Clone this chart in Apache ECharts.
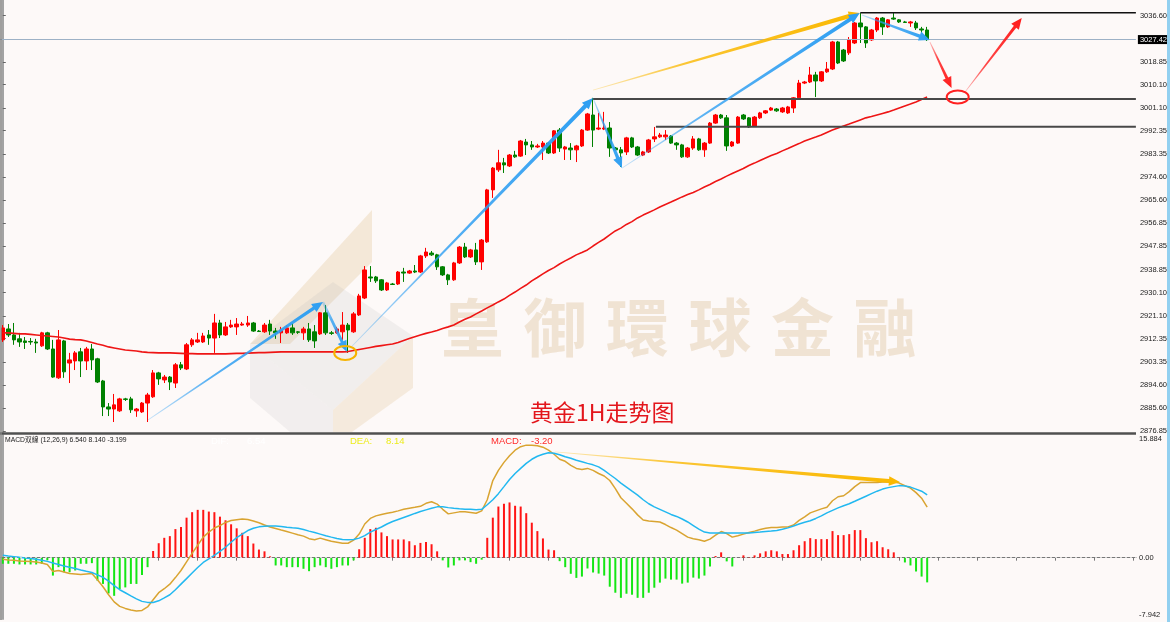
<!DOCTYPE html>
<html>
<head>
<meta charset="utf-8">
<script src="https://cdn.jsdelivr.net/npm/echarts@6.0.0/dist/echarts.min.js"></script>
<style>
  html, body { margin: 0; padding: 0; background: #fdf9f8; }
  #chart { width: 1170px; height: 622px; }
</style>
</head>
<body>
<div id="chart"></div>
<script>
// ---- data ----
const SLOT_COUNT = 204;               // hourly slots across the panel (last 37 still empty)
const slots = Array.from({ length: SLOT_COUNT }, (_, i) => String(i));

// [open, close, low, high]
const candles = [
  [2911.9,2916.5,2911.1,2917.6],[2916.1,2913.8,2913.0,2918.0],[2913.8,2911.9,2910.0,2918.4],[2912.3,2911.1,2909.2,2914.6],[2911.5,2910.9,2908.4,2913.0],
  [2911.3,2911.1,2910.0,2912.6],[2911.1,2910.7,2906.9,2912.3],[2909.6,2914.6,2909.2,2915.0],[2914.6,2908.4,2908.0,2915.0],[2908.4,2897.6,2897.3,2911.9],
  [2897.3,2911.9,2896.9,2915.7],[2911.5,2899.6,2897.3,2911.9],[2903.0,2904.2,2895.3,2906.9],[2903.8,2906.9,2900.3,2907.6],[2907.3,2903.8,2897.6,2908.8],
  [2903.8,2908.4,2900.3,2909.2],[2908.4,2904.2,2900.3,2910.3],[2904.6,2895.7,2895.3,2905.0],[2896.1,2886.1,2882.6,2896.5],[2886.1,2885.3,2882.6,2887.6],
  [2885.3,2886.9,2880.3,2891.1],[2884.6,2889.2,2884.2,2889.6],[2889.2,2889.0,2888.4,2889.6],[2889.2,2885.0,2883.8,2890.0],[2884.6,2885.3,2882.3,2885.7],
  [2884.2,2887.6,2883.8,2888.0],[2887.6,2890.7,2880.3,2891.5],[2890.0,2899.2,2889.6,2900.3],[2899.2,2896.9,2894.6,2899.6],[2896.5,2897.6,2895.3,2898.4],
  [2897.6,2895.7,2892.6,2898.0],[2895.3,2902.3,2893.4,2903.0],[2902.3,2901.1,2900.3,2903.4],[2900.7,2910.0,2900.3,2910.7],[2910.0,2911.9,2909.2,2912.6],
  [2911.1,2911.9,2910.7,2914.6],[2911.1,2913.4,2910.7,2914.6],[2913.8,2912.6,2910.0,2915.7],[2912.6,2918.4,2906.9,2921.9],[2918.4,2913.8,2912.6,2919.6],
  [2913.8,2916.9,2913.4,2918.8],[2916.9,2917.6,2916.5,2919.6],[2916.9,2918.0,2913.8,2920.3],[2917.6,2918.0,2917.3,2918.8],[2917.6,2918.4,2916.9,2921.1],
  [2918.4,2915.3,2915.0,2918.8],[2915.3,2915.1,2915.0,2915.7],[2915.0,2917.6,2914.6,2918.4],[2918.0,2915.3,2913.8,2919.6],[2915.3,2914.6,2912.3,2916.5],
  [2914.6,2915.7,2910.7,2916.9],[2914.6,2916.5,2914.2,2917.6],[2916.5,2914.6,2913.8,2918.4],[2915.0,2914.8,2914.2,2915.3],[2914.6,2916.1,2911.9,2916.9],
  [2916.1,2911.9,2911.1,2918.4],[2915.0,2911.5,2908.8,2917.6],[2914.2,2922.3,2913.8,2922.6],[2922.3,2914.6,2913.8,2925.3],[2914.6,2914.4,2913.8,2915.3],
  [2914.6,2916.1,2914.2,2916.9],[2915.0,2917.6,2911.9,2922.6],[2917.6,2915.7,2906.9,2918.4],[2915.0,2921.9,2914.6,2922.6],[2921.5,2928.8,2921.1,2929.6],
  [2928.0,2938.8,2927.6,2940.3],[2936.1,2935.7,2934.2,2940.3],[2936.1,2934.6,2933.8,2936.5],[2935.0,2931.1,2930.7,2935.3],[2931.1,2933.8,2930.7,2934.2],
  [2933.4,2933.2,2933.0,2933.8],[2933.4,2938.0,2933.0,2938.4],[2938.0,2937.6,2934.2,2939.6],[2937.6,2938.4,2937.3,2938.8],[2938.4,2938.0,2937.6,2940.7],
  [2938.0,2944.2,2937.6,2944.6],[2944.2,2945.7,2943.4,2947.3],[2945.3,2944.6,2944.2,2946.1],[2944.6,2940.0,2938.8,2945.0],[2940.0,2936.9,2936.5,2940.3],
  [2936.9,2935.0,2933.0,2937.3],[2935.0,2941.5,2934.6,2941.9],[2941.5,2947.6,2941.1,2948.0],[2947.6,2943.8,2943.4,2949.2],[2943.8,2946.5,2943.4,2946.9],
  [2946.5,2941.9,2940.7,2949.2],[2941.9,2950.3,2938.8,2950.7],[2949.6,2969.6,2949.2,2970.0],[2969.6,2978.0,2966.5,2978.4],[2977.3,2980.0,2976.5,2985.0],
  [2980.0,2979.2,2976.1,2981.9],[2978.8,2983.0,2978.4,2983.4],[2983.0,2982.3,2981.9,2984.6],[2982.6,2988.4,2982.3,2988.8],[2988.0,2986.9,2983.0,2989.2],
  [2986.9,2986.1,2985.0,2988.4],[2986.1,2986.5,2985.7,2987.3],[2986.1,2987.6,2981.1,2988.4],[2987.6,2983.8,2983.4,2988.0],[2983.8,2992.3,2983.4,2992.6],
  [2992.6,2985.7,2984.2,2993.4],[2985.3,2986.1,2981.1,2986.5],[2985.7,2985.0,2981.1,2987.6],[2985.0,2986.5,2980.3,2986.9],[2986.5,2992.6,2986.1,2993.0],
  [2992.6,2998.8,2992.3,2999.2],[2998.4,2992.6,2986.1,3005.0],[2993.0,2993.4,2992.6,2999.2],[2993.0,2993.4,2992.6,2999.6],[2993.4,2985.7,2982.3,2995.7],
  [2985.7,2985.0,2984.6,2986.1],[2985.0,2983.8,2978.4,2986.1],[2984.2,2989.6,2983.0,2990.0],[2989.6,2986.1,2985.7,2990.0],[2986.1,2983.0,2982.6,2986.5],
  [2983.0,2984.2,2982.6,2984.6],[2984.2,2988.8,2983.8,2989.2],[2989.2,2990.0,2988.0,2993.8],[2990.0,2990.7,2989.6,2991.5],[2990.0,2990.7,2988.8,2992.6],
  [2990.3,2987.6,2987.3,2990.7],[2987.6,2986.9,2985.0,2988.0],[2986.9,2982.3,2981.9,2987.3],[2982.3,2985.7,2981.9,2986.1],[2985.7,2989.2,2985.0,2990.3],
  [2989.2,2985.0,2984.6,2989.6],[2985.0,2987.6,2982.3,2988.0],[2987.6,2995.3,2987.3,2995.7],[2995.3,2998.4,2995.0,2998.8],[2998.4,2997.3,2996.9,2998.8],
  [2997.3,2986.5,2984.6,2998.4],[2986.5,2988.0,2986.1,2988.4],[2987.6,2997.6,2987.3,2998.0],[2998.4,2996.9,2996.5,2998.8],[2997.3,2993.8,2993.4,2997.6],
  [2994.2,2997.6,2993.8,2998.0],[2997.3,2999.2,2996.9,2999.6],[2999.2,3000.0,2998.8,3000.3],[3000.3,3001.1,3000.0,3001.5],[3000.7,3000.0,2999.6,3001.1],
  [2999.6,3001.1,2999.2,3001.5],[2999.2,3001.5,2998.8,3001.9],[3001.1,3005.0,2999.2,3005.3],[3005.0,3010.7,3004.2,3011.9],[3010.7,3011.1,3010.3,3011.5],
  [3011.1,3013.8,3010.7,3016.9],[3013.8,3011.5,3005.3,3015.0],[3011.5,3015.0,3011.1,3015.3],[3015.0,3016.1,3014.6,3018.8],[3016.1,3026.5,3015.7,3026.9],
  [3026.5,3018.4,3018.0,3026.9],[3023.4,3019.2,3018.8,3023.8],[3022.3,3027.3,3021.5,3028.4],[3026.1,3033.8,3025.7,3034.2],[3033.8,3032.3,3026.1,3037.6],
  [3032.3,3026.1,3024.2,3032.6],[3027.3,3031.1,3026.9,3031.5],[3031.1,3035.7,3030.3,3036.1],[3035.7,3032.3,3029.2,3036.1],[3032.3,3035.0,3031.9,3035.3],
  [3035.7,3035.3,3035.0,3037.6],[3035.0,3034.2,3033.8,3035.3],[3034.2,3034.0,3033.8,3034.6],[3033.8,3034.2,3032.3,3034.6],[3033.8,3031.9,3031.1,3034.6],
  [3031.5,3031.1,3030.0,3032.3],[3031.1,3027.4,3026.9,3032.3]
];

// red moving average on the price panel
const movingAvg = [
  2914.6,2914.6,2914.4,2914.2,2914.2, 2914.0,2913.8,2913.6,2913.4,2913.2,
  2913.0,2912.6,2912.2,2912.0,2911.9, 2911.5,2910.9,2910.3,2909.8,2909.2,
  2908.8,2908.4,2908.0,2907.8,2907.6, 2907.3,2907.1,2907.0,2906.9,2906.9,
  2906.9,2906.8,2906.7,2906.6,2906.6, 2906.5,2906.5,2906.5,2906.5,2906.5,
  2906.5,2906.6,2906.7,2906.7,2906.8, 2906.9,2907.0,2907.0,2907.1,2907.2,
  2907.3,2907.3,2907.3,2907.3,2907.3, 2907.3,2907.3,2907.3,2907.3,2907.3,
  2907.3,2907.3,2907.4,2907.8,2908.2, 2908.6,2909.0,2909.4,2909.7,2910.0,
  2910.3,2910.9,2911.7,2912.4,2913.1, 2913.8,2914.4,2914.9,2915.5,2916.3,
  2916.9,2917.6,2918.8,2919.8,2920.7, 2921.9,2923.0,2924.2,2925.3,2926.5,
  2927.6,2929.0,2930.3,2931.7,2933.0, 2934.6,2935.9,2937.3,2938.6,2939.7,
  2941.1,2942.3,2943.4,2944.6,2945.5, 2946.5,2948.0,2949.4,2950.7,2952.3,
  2953.8,2954.9,2956.3,2957.4,2958.8, 2959.9,2960.9,2961.9,2963.0,2964.0,
  2964.9,2965.9,2966.9,2967.8,2968.6, 2969.6,2970.7,2971.7,2972.8,2973.8,
  2974.9,2975.9,2976.9,2977.8,2979.0, 2979.9,2980.9,2981.9,2982.8,2983.6,
  2984.6,2985.5,2986.5,2987.4,2988.4, 2989.2,2989.9,2990.7,2991.7,2992.6,
  2993.4,2994.2,2994.9,2995.7,2996.5, 2997.3,2997.8,2998.4,2999.0,2999.6,
  3000.3,3001.1,3001.9,3002.6,3003.4,3004.4,3005.3
];

const macdHist = [
  -0.79,-0.79,-0.79,-0.88,-0.88, -0.88,-0.88,-0.79,-0.35,-2.32, -1.23,-1.89,-1.89,-1.66,-0.79,
  -0.79,-0.71,-2.97,-3.40,-4.63, -4.94,-4.06,-3.85,-3.40,-3.40, -2.23,-1.23,0.86,1.87,2.57,
  2.79,3.70,3.97,5.18,5.89, 6.19,6.19,5.97,5.89,5.31, 4.84,4.32,3.80,3.22,2.79,
  1.83,1.05,0.82,0.17,-1.01, -1.01,-1.23,-1.23,-1.23,-1.44, -1.75,-1.23,-1.01,-1.23,-1.44,
  -1.23,-1.01,-1.01,-0.35,1.09, 2.57,3.70,3.87,3.27,2.79, 2.36,2.36,2.36,2.13,1.61,
  1.91,2.04,1.74,0.82,-0.35, -1.27,-1.01,-0.35,-0.35,-0.58, -0.79,-0.26,2.57,5.18,6.62,
  6.98,7.15,6.72,6.62,5.76, 4.53,3.44,2.49,1.05,0.96, -0.45,-1.23,-2.09,-2.62,-2.45,
  -1.40,-1.92,-2.06,-2.32,-3.76, -4.54,-5.20,-4.67,-4.80,-5.20, -5.20,-4.54,-3.89,-3.23,-2.71,
  -2.84,-2.84,-3.36,-3.23,-2.58, -2.71,-2.32,-1.14,0.21,0.69, -0.48,-1.14,0,0.30,0.04,
  0.30,0.56,0.82,0.96,0.82, 0.47,0.47,0.96,1.61,2.13, 2.53,2.40,2.40,2.40,3.44,
  2.92,2.92,3.05,3.57,3.57, 2.53,2.00,2.13,1.35,1.09, 0.69,0.05,-0.62,-1.01,-1.79,
  -2.45,-3.20
];

const macdDif = [
  -0.22,-0.29,-0.35,-0.42,-0.48, -0.51,-0.56,-0.68,-0.88,-1.79, -1.66,-1.86,-2.06,-2.12,-2.19,
  -2.12,-2.06,-2.85,-3.76,-4.80, -5.72,-6.31,-6.57,-6.77,-6.90, -6.83,-6.38,-5.46,-4.54,-4.02,
  -3.43,-2.58,-1.66,-0.55,0.56, 1.61,2.66,3.31,3.84,4.16, 4.56,4.82,4.92,5.01,4.95,
  4.75,4.52,4.23,3.97,3.77, 3.57,3.38,3.18,2.98,2.79, 2.46,2.33,2.53,2.33,2.13,
  2.00,1.87,1.87,2.26,3.05, 4.36,5.08,5.41,5.60,5.76, 5.89,6.06,6.26,6.41,6.52,
  6.65,7.04,7.24,6.94,6.26, 5.67,5.80,5.93,5.93,5.86, 5.76,6.06,7.50,9.99,11.30,
  12.34,13.20,13.92,14.37,14.57, 14.57,14.50,14.31,13.92,13.39, 12.74,12.48,11.95,11.56,11.43,
  11.56,11.30,10.90,10.58,9.99, 8.94,7.76,7.04,6.32,5.54, 4.88,4.75,4.69,4.62,4.29,
  3.90,3.57,3.12,2.66,2.46, 2.33,2.13,2.40,2.92,3.38, 3.12,2.66,2.85,3.05,3.25,
  3.44,3.64,3.80,3.90,3.90, 3.97,3.97,4.23,4.82,5.28, 5.80,6.06,6.32,6.52,7.37,
  7.89,8.02,8.55,9.20,9.73, 9.73,9.73,9.73,9.79,9.79, 9.79,9.66,9.33,9.01,8.42,
  7.70,6.54
];

const macdDea = [
  0.30,0.21,0.13,0.04,-0.03, -0.12,-0.20,-0.33,-0.48,-0.68, -0.88,-1.07,-1.24,-1.40,-1.60,
  -1.77,-1.92,-2.23,-2.54,-3.04, -3.63,-4.15,-4.54,-4.94,-5.33, -5.66,-5.79,-5.81,-5.59,-5.20,
  -4.80,-4.15,-3.43,-2.71,-1.99, -1.27,-0.62,-0.16,0.30,0.82, 1.35,2.00,2.59,3.05,3.51,
  3.80,3.99,4.06,4.10,4.10, 4.03,3.93,3.86,3.80,3.64, 3.44,3.25,3.05,2.85,2.66,
  2.49,2.36,2.33,2.36,2.53, 2.85,3.31,3.64,3.97,4.36, 4.69,4.95,5.21,5.47,5.73,
  5.97,6.19,6.39,6.58,6.58, 6.48,6.39,6.32,6.28,6.26, 6.22,6.26,6.85,7.50,8.29,
  9.20,10.12,10.90,11.56,12.21, 12.74,13.13,13.39,13.59,13.52, 13.33,13.06,12.87,12.61,12.41,
  12.21,12.02,11.76,11.30,10.77, 10.25,9.66,9.14,8.61,8.09, 7.50,6.98,6.58,6.26,5.93,
  5.60,5.34,5.01,4.62,4.16, 3.70,3.31,3.18,3.18,3.18, 3.18,3.18,3.18,3.18,3.18,
  3.25,3.31,3.38,3.44,3.53, 3.67,3.86,4.10,4.36,4.58, 4.78,5.08,5.41,5.80,6.13,
  6.45,6.72,6.98,7.30,7.63, 7.96,8.29,8.61,8.88,9.07, 9.20,9.33,9.29,9.14,8.88,
  8.61,8.14
];

const priceTicks = [3036.60, 3018.85, 3010.10, 3001.10, 2992.35, 2983.35, 2974.60, 2965.60, 2956.85,
  2947.85, 2938.85, 2930.10, 2921.10, 2912.35, 2903.35, 2894.60, 2885.60, 2876.85];
const macdTicks = [-7.942, 0, 15.884];
const lastPrice = 3027.42;

// hand-drawn annotations, in (slot, price) terms
const levelLines = [[154, 3037.7], [106, 3004.6], [117.3, 2993.9]];        // start slot, price
const priceArrows = [
  [26.1, 2881.1, 57.5, 2926.5], [57.5, 2926.5, 61.8, 2907.3], [62.4, 2908.8, 106.0, 3004.9],
  [106.0, 3008.0, 153.9, 3037.6], [106.0, 3004.9, 111.2, 2978.0], [111.2, 2978.0, 153.9, 3037.6],
  [154.3, 3036.9, 166.5, 3027.3], [166.5, 3026.5, 170.4, 3008.8], [172.8, 3007.2, 183.0, 3035.7]
];
const priceRings = [[61.5, 2906.9], [171.5, 3005.3]];
const macdArrows = [[99.2, 13.7, 161.1, 9.8]];

// ---- styles ----
const BLUE = [47, 159, 242], GOLD = [250, 184, 0], RED = [255, 28, 28];
const priceArrowStyle = [
  { rgb: BLUE, w0: 0.8, w1: 3.5 }, { rgb: BLUE, w0: 2.5, w1: 3 }, { rgb: BLUE, w0: 0.8, w1: 4 },
  { rgb: GOLD, w0: 0.8, w1: 4.5 }, { rgb: BLUE, w0: 1, w1: 3.5 }, { rgb: BLUE, w0: 0.8, w1: 4 },
  { rgb: BLUE, w0: 1, w1: 3.5 }, { rgb: RED, w0: 0.8, w1: 3 }, { rgb: RED, w0: 0.8, w1: 3 }
];
const ringStyle = [{ color: '#f6b300', rx: 11, ry: 7 }, { color: '#ff2020', rx: 11, ry: 6.5 }];
const levelStyle = [{ color: '#111', w: 1.5 }, { color: '#484848', w: 2 }, { color: '#484848', w: 2 }];

function taperedArrow(p0, p1, st) {
  const dx = p1[0] - p0[0], dy = p1[1] - p0[1];
  const len = Math.hypot(dx, dy) || 1;
  const ux = dx / len, uy = dy / len, nx = -uy, ny = ux;
  const hl = 11, hw = 4.8;
  const bx = p1[0] - ux * hl, by = p1[1] - uy * hl;
  const pts = [
    [p0[0] + nx * st.w0 / 2, p0[1] + ny * st.w0 / 2],
    [bx + nx * st.w1 / 2, by + ny * st.w1 / 2],
    [bx + nx * hw, by + ny * hw],
    [p1[0], p1[1]],
    [bx - nx * hw, by - ny * hw],
    [bx - nx * st.w1 / 2, by - ny * st.w1 / 2],
    [p0[0] - nx * st.w0 / 2, p0[1] - ny * st.w0 / 2]
  ];
  const c = st.rgb.join(',');
  return {
    type: 'polygon',
    shape: { points: pts },
    style: {
      fill: new echarts.graphic.LinearGradient(p0[0], p0[1], p1[0], p1[1], [
        { offset: 0, color: 'rgba(' + c + ',0.25)' },
        { offset: 0.35, color: 'rgba(' + c + ',0.8)' },
        { offset: 1, color: 'rgba(' + c + ',1)' }
      ], true)
    }
  };
}

const chart = echarts.init(document.getElementById('chart'));

const axisFont = { fontFamily: 'Liberation Sans', fontSize: 7.5, color: '#222' };
const axisLineStyle = { show: true, lineStyle: { color: '#a3a3a3', width: 2 } };
const hdrFont = '9.5px "Liberation Sans"';

chart.setOption({
  backgroundColor: '#fdf9f8',
  animation: false,
  grid: [
    { left: 0, right: 34, top: 0, height: 432 },
    { left: 0, right: 34, top: 435, height: 184 }
  ],
  xAxis: [
    { type: 'category', gridIndex: 0, data: slots, axisLine: { show: false }, axisTick: { show: false }, axisLabel: { show: false } },
    { type: 'category', gridIndex: 1, data: slots,
      axisLine: { show: true, lineStyle: { color: '#777', width: 1 } },
      axisTick: { show: true, interval: 6, alignWithLabel: true, length: 3, lineStyle: { color: '#777' } },
      axisLabel: { show: false } },
    { type: 'value', gridIndex: 0, min: -0.5, max: SLOT_COUNT - 0.5, show: false },
    { type: 'value', gridIndex: 1, min: -0.5, max: SLOT_COUNT - 0.5, show: false }
  ],
  yAxis: [
    { type: 'value', gridIndex: 0, position: 'right', min: 2876.465, max: 3042.639,
      splitLine: { show: false }, axisLine: axisLineStyle,
      axisTick: { show: true, length: 3, lineStyle: { color: '#666' }, customValues: priceTicks },
      axisLabel: Object.assign({ customValues: priceTicks, margin: 4, formatter: v => v.toFixed(2) }, axisFont) },
    { type: 'value', gridIndex: 1, position: 'right', min: -7.942, max: 15.884,
      splitLine: { show: false }, axisLine: axisLineStyle,
      axisTick: { show: true, length: 3, lineStyle: { color: '#666' }, customValues: [0] },
      axisLabel: Object.assign({ customValues: macdTicks, margin: 3,
        verticalAlignMinLabel: 'bottom', verticalAlignMaxLabel: 'top',
        formatter: v => (v === 0 ? '0.00' : String(v)) }, axisFont) }
  ],
  graphic: [
    // faint company logo + name watermark (kept inside the price panel)
    { type: 'group', z: -5, silent: true, children: [
      { type: 'polygon', shape: { points: [[372, 210], [372, 262], [290, 344], [250, 344]] }, style: { fill: 'rgba(228,196,150,0.32)' } },
      { type: 'polygon', shape: { points: [[250, 344], [333, 282], [413, 336], [333, 410]] }, style: { fill: 'rgba(180,180,180,0.16)' } },
      { type: 'polygon', shape: { points: [[333, 410], [413, 336], [413, 388], [352, 432], [333, 432]] }, style: { fill: 'rgba(228,196,150,0.28)' } },
      { type: 'polygon', shape: { points: [[250, 344], [333, 410], [333, 432], [290, 432], [250, 398]] }, style: { fill: 'rgba(180,180,180,0.14)' } }
    ].concat(Array.from('皇御環球金融').map((ch, k) => ({
      type: 'text', x: 441 + 82.5 * k, y: 327,
      style: { text: ch, fill: '#f0e3d3', font: 'bold 63px "Noto Sans CJK TC"', verticalAlign: 'middle' }
    }))) },
    { type: 'text', x: 530, y: 412, z: 20,
      style: { text: '黄金1H走势图', fill: '#e3161c', font: '23px "Noto Sans CJK SC"', verticalAlign: 'middle' } },
    // panel frame
    { type: 'line', z: 20, shape: { x1: 0, y1: 433.5, x2: 1136, y2: 433.5 }, style: { stroke: '#505050', lineWidth: 2.5 } },
    { type: 'line', z: 20, shape: { x1: 1, y1: 0, x2: 1, y2: 620 }, style: { stroke: '#808080', lineWidth: 1.5 } },
    { type: 'rect', z: 20, shape: { x: 1167, y: 0, width: 3, height: 622 }, style: { fill: '#92d0f0' } },
    // MACD header
    { type: 'text', x: 5, y: 440, z: 20, style: { text: 'MACD双線 (12,26,9) 6.540 8.140 -3.199', fill: '#222', font: '6.8px "Liberation Sans","Noto Sans CJK SC"', verticalAlign: 'middle' } },
    { type: 'text', x: 211, y: 441, z: 20, style: { text: 'DIF:', fill: '#ffffff', font: hdrFont, verticalAlign: 'middle' } },
    { type: 'text', x: 247, y: 441, z: 20, style: { text: '6.54', fill: '#ffffff', font: hdrFont, verticalAlign: 'middle' } },
    { type: 'text', x: 350, y: 441, z: 20, style: { text: 'DEA:', fill: '#ecec1c', font: hdrFont, verticalAlign: 'middle' } },
    { type: 'text', x: 386, y: 441, z: 20, style: { text: '8.14', fill: '#ecec1c', font: hdrFont, verticalAlign: 'middle' } },
    { type: 'text', x: 491, y: 441, z: 20, style: { text: 'MACD:', fill: '#ff2a2a', font: hdrFont, verticalAlign: 'middle' } },
    { type: 'text', x: 531, y: 441, z: 20, style: { text: '-3.20', fill: '#ff2a2a', font: hdrFont, verticalAlign: 'middle' } }
  ],
  series: [
    {
      type: 'candlestick', xAxisIndex: 0, yAxisIndex: 0, data: candles, barWidth: 4,
      itemStyle: { color: '#ff0000', color0: '#008000', borderColor: '#ff0000', borderColor0: '#008000', borderWidth: 1 },
      markLine: {
        silent: true, symbol: ['none', 'none'], data: [{ yAxis: lastPrice }],
        lineStyle: { color: '#9db1c6', width: 1, type: 'solid' },
        label: { position: 'end', formatter: lastPrice.toFixed(2), backgroundColor: '#000', color: '#fff',
          padding: [1, 2, 0, 2], fontSize: 7.5, fontFamily: 'Liberation Sans', distance: 2 }
      }
    },
    { type: 'line', xAxisIndex: 0, yAxisIndex: 0, data: movingAvg, showSymbol: false, symbol: 'none',
      lineStyle: { color: '#ee1515', width: 1.6 }, z: 3 },
    { type: 'custom', xAxisIndex: 2, yAxisIndex: 0, data: levelLines, encode: { x: 0, y: 1 }, z: 4, silent: true,
      renderItem: (params, api) => {
        const p = api.coord([api.value(0), api.value(1)]);
        const st = levelStyle[params.dataIndex];
        return { type: 'line', shape: { x1: p[0], y1: p[1], x2: params.coordSys.x + params.coordSys.width, y2: p[1] },
          style: { stroke: st.color, lineWidth: st.w } };
      } },
    { type: 'custom', xAxisIndex: 2, yAxisIndex: 0, data: priceArrows, encode: { x: [0, 2], y: [1, 3] }, z: 6, silent: true,
      renderItem: (params, api) => taperedArrow(
        api.coord([api.value(0), api.value(1)]), api.coord([api.value(2), api.value(3)]), priceArrowStyle[params.dataIndex]) },
    { type: 'custom', xAxisIndex: 2, yAxisIndex: 0, data: priceRings, encode: { x: 0, y: 1 }, z: 6, silent: true,
      renderItem: (params, api) => {
        const c = api.coord([api.value(0), api.value(1)]);
        const st = ringStyle[params.dataIndex];
        return { type: 'ellipse', shape: { cx: c[0], cy: c[1], rx: st.rx, ry: st.ry },
          style: { fill: 'none', stroke: st.color, lineWidth: 2 } };
      } },
    {
      type: 'bar', xAxisIndex: 1, yAxisIndex: 1, data: macdHist, barWidth: 2,
      itemStyle: { color: p => (p.value >= 0 ? '#ff1414' : '#14e614') },
      markLine: { silent: true, symbol: ['none', 'none'], data: [{ yAxis: 0 }], label: { show: false },
        lineStyle: { color: '#cfcfcf', width: 1, type: [2, 3] } }
    },
    { type: 'line', xAxisIndex: 1, yAxisIndex: 1, data: macdDif, showSymbol: false, symbol: 'none',
      lineStyle: { color: '#d9a431', width: 1.5 }, z: 3 },
    { type: 'line', xAxisIndex: 1, yAxisIndex: 1, data: macdDea, showSymbol: false, symbol: 'none',
      lineStyle: { color: '#22b8f0', width: 1.5 }, z: 3 },
    { type: 'custom', xAxisIndex: 3, yAxisIndex: 1, data: macdArrows, encode: { x: [0, 2], y: [1, 3] }, z: 6, silent: true,
      renderItem: (params, api) => taperedArrow(
        api.coord([api.value(0), api.value(1)]), api.coord([api.value(2), api.value(3)]), { rgb: GOLD, w0: 0.8, w1: 4 }) }
  ]
});
</script>
</body>
</html>
